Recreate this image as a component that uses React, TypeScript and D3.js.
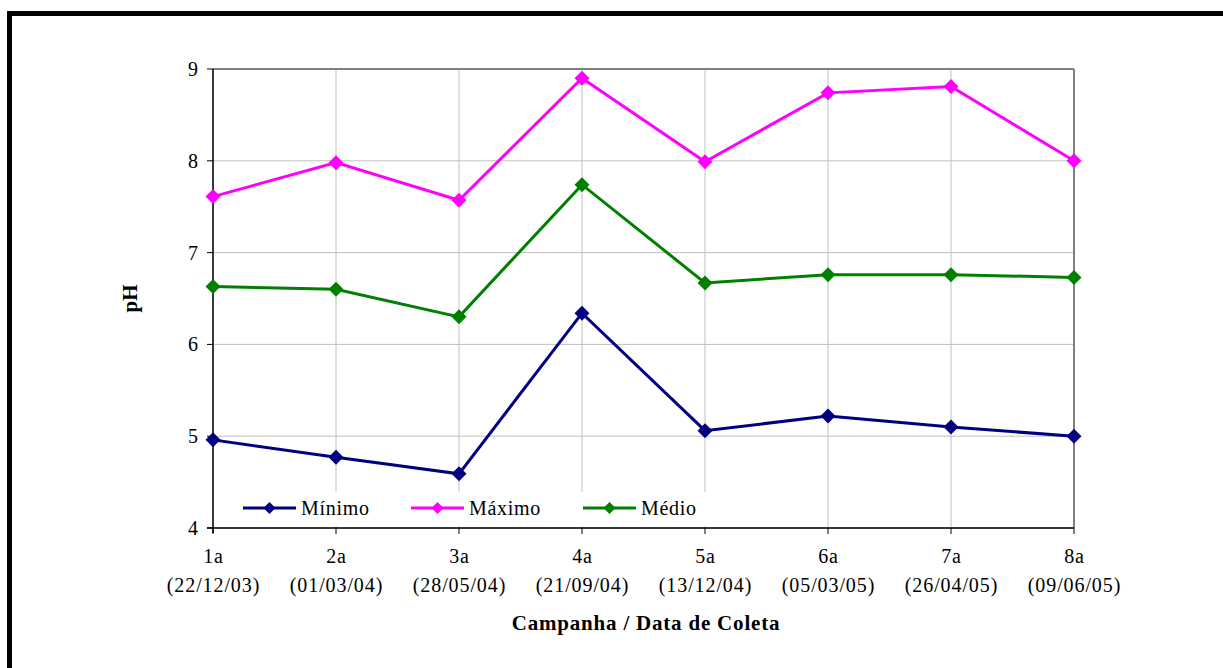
import React from "react";
import * as d3 from "d3";

const campanhas = ["1a", "2a", "3a", "4a", "5a", "6a", "7a", "8a"];
const datas = ["(22/12/03)", "(01/03/04)", "(28/05/04)", "(21/09/04)", "(13/12/04)", "(05/03/05)", "(26/04/05)", "(09/06/05)"];
const minimo = [4.96, 4.77, 4.59, 6.34, 5.06, 5.22, 5.1, 5.0];
const maximo = [7.61, 7.98, 7.57, 8.9, 7.99, 8.74, 8.81, 8.0];
const medio = [6.63, 6.6, 6.3, 7.74, 6.67, 6.76, 6.76, 6.73];
const yTicks = [4, 5, 6, 7, 8, 9];

const seriesNames = ["Mínimo", "Máximo", "Médio"];
const seriesColors = ["#000080", "#FF00FF", "#008000"];

export default function App() {
  const W = 1223, H = 668;
  const left = 213, right = 1074, top = 69, bottom = 528;
  const x = d3.scalePoint<string>().domain(campanhas).range([left, right]);
  const y = d3.scaleLinear().domain([4, 9]).range([bottom, top]);
  const series = [minimo, maximo, medio];
  const line = d3.line<number>().x((_, i) => x(campanhas[i]) as number).y((d) => y(d));
  const diamond = (cx: number, cy: number, r: number) =>
    `M${cx},${cy - r}L${cx + r},${cy}L${cx},${cy + r}L${cx - r},${cy}Z`;
  const font = "'Liberation Serif', 'Times New Roman', serif";
  const legendX = [243, 411, 583];
  const legendY = 508;

  return (
    <svg width={W} height={H} style={{ position: "absolute", left: 0, top: 0, background: "#fff" }} fontFamily={font}>
      <rect x={0} y={0} width={W} height={H} fill="#fff" />
      {/* frame */}
      <line x1={7} y1={13.5} x2={W} y2={13.5} stroke="#000" strokeWidth={5} />
      <line x1={9.5} y1={11} x2={9.5} y2={H} stroke="#000" strokeWidth={5} />
      {/* gridlines */}
      {yTicks.map((t) => (
        <line key={"h" + t} x1={left} x2={right} y1={y(t)} y2={y(t)} stroke="#c0c0c0" strokeWidth={1} />
      ))}
      {campanhas.map((c) => (
        <line key={"v" + c} x1={x(c)} x2={x(c)} y1={top} y2={bottom} stroke="#c0c0c0" strokeWidth={1} />
      ))}
      {/* plot border top/right */}
      <line x1={left} x2={right} y1={top} y2={top} stroke="#808080" strokeWidth={2} />
      <line x1={right} x2={right} y1={top} y2={bottom} stroke="#808080" strokeWidth={2} />
      {/* legend background */}
      <rect x={238} y={492} width={474} height={34} fill="#fff" />
      {/* axes */}
      <line x1={left} x2={left} y1={top} y2={bottom + 5} stroke="#000" strokeWidth={1.5} />
      <line x1={left - 6} x2={right} y1={bottom} y2={bottom} stroke="#000" strokeWidth={1.5} />
      {yTicks.map((t) => (
        <g key={"yt" + t}>
          <line x1={left - 6} x2={left} y1={y(t)} y2={y(t)} stroke="#000" strokeWidth={1} />
          <text x={left - 15} y={y(t)} dy="0.35em" textAnchor="end" fontSize={20}>{t}</text>
        </g>
      ))}
      {campanhas.map((c, i) => (
        <g key={"xt" + c}>
          <line x1={x(c)} x2={x(c)} y1={bottom} y2={bottom + 6} stroke="#000" strokeWidth={1} />
          <text x={(x(c) as number) + 0.5} y={563} textAnchor="middle" fontSize={20} letterSpacing={0.9}>{c}</text>
          <text x={(x(c) as number) + 0.5} y={592} textAnchor="middle" fontSize={20} letterSpacing={0.9}>{datas[i]}</text>
        </g>
      ))}
      {/* series */}
      {series.map((s, si) => (
        <g key={"s" + si}>
          <path d={line(s) || ""} fill="none" stroke={seriesColors[si]} strokeWidth={3} />
          {s.map((v, i) => (
            <path key={i} d={diamond(x(campanhas[i]) as number, y(v), 7.5)} fill={seriesColors[si]} />
          ))}
        </g>
      ))}
      {/* legend */}
      {seriesNames.map((n, i) => (
        <g key={"lg" + n}>
          <line x1={legendX[i]} x2={legendX[i] + 53} y1={legendY} y2={legendY} stroke={seriesColors[i]} strokeWidth={3} />
          <path d={diamond(legendX[i] + 26.5, legendY, 6)} fill={seriesColors[i]} />
          <text x={legendX[i] + 58} y={legendY} dy="0.35em" fontSize={20} letterSpacing={0.7}>{n}</text>
        </g>
      ))}
      {/* axis titles */}
      <text x={646} y={630} textAnchor="middle" fontSize={21} fontWeight="bold" letterSpacing={0.8}>Campanha / Data de Coleta</text>
      <text transform={`translate(137,${(top + bottom) / 2}) rotate(-90)`} textAnchor="middle" fontSize={21} fontWeight="bold">pH</text>
    </svg>
  );
}
